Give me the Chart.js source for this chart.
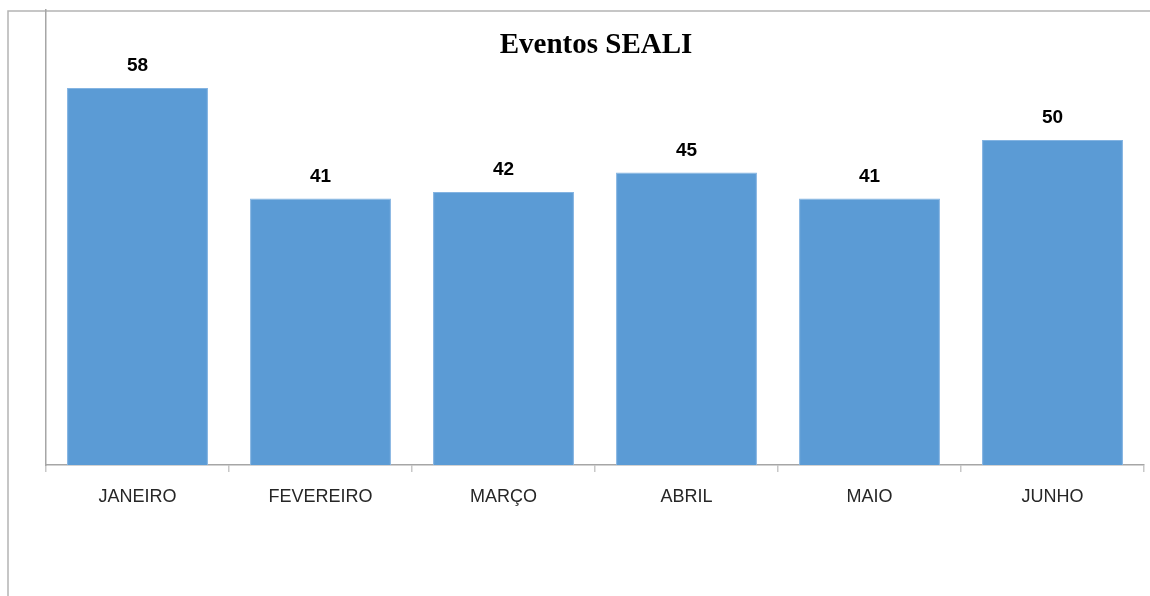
<!DOCTYPE html>
<html>
<head>
<meta charset="utf-8">
<script src="https://cdn.jsdelivr.net/npm/chart.js@4.4.1/dist/chart.umd.min.js"></script>
<style>
  html, body { margin: 0; padding: 0; background: #fff; }
  #wrap { width: 1150px; height: 596px; position: relative; }
</style>
</head>
<body>
<div id="wrap"><canvas id="myChart"></canvas></div>
<script>
const months = ['JANEIRO', 'FEVEREIRO', 'MARÇO', 'ABRIL', 'MAIO', 'JUNHO'];
const eventos = [58, 41, 42, 45, 41, 50];
const chartTitle = 'Eventos SEALI';

// outer frame lines + title inside the plot area
const framePlugin = {
    id: 'frame',
    beforeDraw(chart) {
        const c = chart.ctx;
        c.save();
        c.strokeStyle = '#b4b4b4';
        c.lineWidth = 1.5;
        c.beginPath();
        c.moveTo(8, 596);
        c.lineTo(8, 11);
        c.lineTo(1150, 11);
        c.stroke();
        c.restore();
    },
    afterDraw(chart) {
        const c = chart.ctx;
        const area = chart.chartArea;
        c.save();
        c.fillStyle = '#000';
        c.font = "bold 29px 'Liberation Serif', serif";
        c.textAlign = 'center';
        c.textBaseline = 'alphabetic';
        c.fillText(chartTitle, (area.left + area.right) / 2 + 1, 53);
        c.restore();
    }
};

// value above each bar
const valueLabels = {
    id: 'valueLabels',
    afterDatasetsDraw(chart) {
        const c = chart.ctx;
        const meta = chart.getDatasetMeta(0);
        c.save();
        c.fillStyle = '#000';
        c.font = "bold 19px 'Liberation Sans', sans-serif";
        c.textAlign = 'center';
        c.textBaseline = 'alphabetic';
        meta.data.forEach((bar, i) => {
            c.fillText(String(eventos[i]), bar.x, bar.y - 17);
        });
        c.restore();
    }
};

const ctx = document.getElementById('myChart');

const dataChart = new Chart(ctx, {
    type: 'bar',
    data: {
        labels: months,
        datasets: [{
            label: 'Eventos',
            data: eventos,
            backgroundColor: '#5b9bd5',
            borderColor: '#84b4e2',
            borderWidth: 1,
            barPercentage: 0.77,
            categoryPercentage: 1.0
        }]
    },
    options: {
        responsive: true,
        maintainAspectRatio: false,
        animation: false,
        layout: {
            padding: { left: 46, top: 10, right: 6, bottom: 0 }
        },
        plugins: {
            legend: { display: false },
            title: { display: false },
            tooltip: { enabled: false }
        },
        scales: {
            x: {
                afterFit(scale) { scale.height = 131; },
                grid: {
                    drawOnChartArea: false,
                    drawTicks: true,
                    tickLength: 7,
                    color: '#c8c8c8',
                    lineWidth: 1.5
                },
                border: { display: true, color: '#a6a6a6', width: 1.5 },
                ticks: {
                    color: '#262626',
                    padding: 14,
                    font: { family: "'Liberation Sans', sans-serif", size: 18 }
                }
            },
            y: {
                min: 0,
                max: 70,
                afterFit(scale) { scale.width = 0; },
                grid: { display: false },
                border: { display: true, color: '#a6a6a6', width: 1.5 },
                ticks: { display: false }
            }
        }
    },
    plugins: [framePlugin, valueLabels]
});
</script>
</body>
</html>
